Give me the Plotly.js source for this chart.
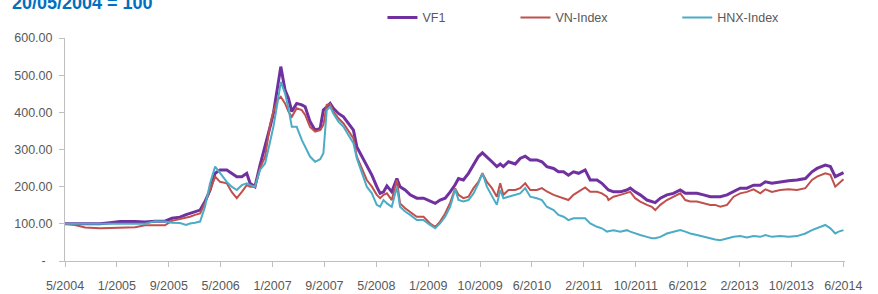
<!DOCTYPE html>
<html>
<head>
<meta charset="utf-8">
<script src="https://cdn.plot.ly/plotly-3.0.1.min.js"></script>
<style>
html,body{margin:0;padding:0;background:#fff;}
#chart{width:878px;height:294px;}
</style>
</head>
<body>
<div id="chart"></div>
<script>
const dates = [
"2004-05-20","2004-07-06","2004-08-23","2004-11-01","2004-12-19","2005-02-04","2005-04-16","2005-06-02","2005-07-19","2005-09-04",
"2005-10-07","2005-11-14","2005-12-13","2005-12-31","2006-01-24","2006-02-17","2006-03-12","2006-04-05","2006-04-29","2006-05-22",
"2006-06-23","2006-07-16","2006-08-09","2006-09-02","2006-09-25","2006-10-11","2006-11-03","2006-11-27","2006-12-21","2007-01-13",
"2007-01-29","2007-02-17","2007-03-05","2007-03-25","2007-04-10","2007-04-26","2007-05-19","2007-06-12","2007-06-28","2007-07-21",
"2007-08-14","2007-09-07","2007-09-22","2007-10-08","2007-10-24","2007-11-08","2007-12-02","2007-12-26","2008-01-18","2008-02-11",
"2008-02-27","2008-03-21","2008-04-14","2008-05-08","2008-05-31","2008-06-16","2008-07-02","2008-07-18","2008-08-10","2008-09-03",
"2008-09-18","2008-10-12","2008-11-05","2008-12-06","2009-01-07","2009-02-07","2009-03-03","2009-03-26","2009-04-19","2009-05-13",
"2009-06-05","2009-06-21","2009-07-14","2009-08-07","2009-08-31","2009-09-23","2009-10-12","2009-11-02","2009-11-26","2009-12-19",
"2010-01-04","2010-01-19","2010-02-12","2010-03-16","2010-04-08","2010-05-02","2010-05-26","2010-06-26","2010-07-20","2010-08-12",
"2010-09-13","2010-10-06","2010-10-30","2010-11-22","2010-12-16","2011-01-09","2011-02-09","2011-03-05","2011-04-06","2011-04-29",
"2011-05-23","2011-05-30","2011-06-23","2011-07-25","2011-08-25","2011-09-10","2011-10-03","2011-10-27","2011-11-28","2011-12-21",
"2012-01-06","2012-01-30","2012-03-01","2012-04-01","2012-05-03","2012-05-27","2012-06-19","2012-07-21","2012-08-21","2012-09-22",
"2012-10-15","2012-11-08","2012-12-10","2013-01-10","2013-02-10","2013-03-14","2013-04-14","2013-05-16","2013-06-09","2013-07-10",
"2013-08-18","2013-09-27","2013-11-05","2013-12-15","2014-01-15","2014-02-08","2014-03-19","2014-04-12","2014-05-05","2014-05-21",
"2014-06-13"
];
const vf1 = [
100,100,100,100,103,106,106,105,107,107,
115,118,125,128,132,137,160,191,236,245,
245,236,227,227,236,209,200,258,307,360,
397,469,523,460,438,402,424,420,415,375,
352,357,406,415,424,411,397,388,370,352,
307,281,254,231,200,182,186,202,186,222,
200,191,178,169,169,160,155,164,169,186,
205,222,218,236,258,281,291,281,267,254,
261,254,267,261,276,282,272,272,267,254,
249,240,240,231,240,236,245,218,218,209,
196,191,186,186,191,196,186,178,164,160,
157,169,178,182,191,182,182,182,178,173,
173,173,178,186,196,196,204,204,213,209,
213,216,218,222,240,249,258,254,227,231,
238
];
const vnIndex = [
100,97,90,88,89,90,91,96,96,96,
108,112,117,119,124,128,156,190,227,213,
209,186,169,186,204,200,200,249,281,365,
402,433,442,424,402,388,411,406,393,361,
348,352,366,420,422,402,384,370,352,330,
281,249,218,200,178,169,178,182,164,218,
155,142,133,119,119,101,92,106,128,157,
195,178,169,173,196,213,236,213,196,173,
209,178,191,191,196,209,191,191,196,187,
178,173,169,164,178,186,198,186,186,182,
173,164,173,178,182,186,169,160,151,146,
137,151,164,173,182,164,160,160,155,151,
151,146,151,173,182,186,193,182,193,186,
191,193,191,196,218,227,236,232,200,209,
220
];
const hnxIndex = [
100,100,100,100,100,100,100,100,107,106,
103,102,97,101,103,106,146,209,254,236,
213,200,191,204,209,204,200,245,263,320,
361,424,482,451,411,361,361,326,307,281,
267,274,290,406,415,397,375,361,339,317,
276,240,200,182,151,146,164,155,146,200,
146,133,124,110,110,97,88,101,119,146,
193,164,160,164,182,209,236,200,173,151,
191,169,173,178,182,196,173,169,164,146,
137,124,119,110,115,115,115,101,92,88,
79,80,83,79,83,79,74,70,65,61,
61,65,74,79,83,79,74,70,65,61,
58,56,61,65,67,63,67,65,70,65,
67,65,67,74,83,88,97,88,74,79,
83
];
const tickDates = ["2004-05-20","2005-01-20","2005-09-22","2006-05-25","2007-01-25","2007-09-27","2008-05-29","2009-01-29",
"2009-10-01","2010-06-03","2011-02-03","2011-10-06","2012-06-07","2013-02-07","2013-10-10","2014-06-12"];
const tickLabels = ["5/2004","1/2005","9/2005","5/2006","1/2007","9/2007","5/2008","1/2009",
"10/2009","6/2010","2/2011","10/2011","6/2012","2/2013","10/2013","6/2014"];
const yTickVals = [0,100,200,300,400,500,600];
const yTickLabels = ["-\u00a0\u00a0","100.00","200.00","300.00","400.00","500.00","600.00"];
const seriesNames = ["VF1","VN-Index","HNX-Index"];
const titleText = "20/05/2004 = 100";

const FONT = "Liberation Sans, Arial, sans-serif";
const traces = [
  {x: dates, y: vf1, name: seriesNames[0], type: "scatter", mode: "lines",
   line: {color: "#7030A0", width: 3}, legend: "legend"},
  {x: dates, y: vnIndex, name: seriesNames[1], type: "scatter", mode: "lines",
   line: {color: "#C0504D", width: 2}, legend: "legend2"},
  {x: dates, y: hnxIndex, name: seriesNames[2], type: "scatter", mode: "lines",
   line: {color: "#4BACC6", width: 2}, legend: "legend3"}
];
const legendBase = {orientation: "h", yanchor: "middle", y: 1.09, xanchor: "left",
  font: {family: FONT, size: 12.5, color: "#595959"}, bgcolor: "rgba(0,0,0,0)", borderwidth: 0};
const layout = {
  width: 878, height: 294,
  margin: {l: 65, r: 33, t: 38, b: 33, autoexpand: false},
  paper_bgcolor: "#ffffff", plot_bgcolor: "#ffffff",
  font: {family: FONT, size: 12.5, color: "#595959"},
  showlegend: true,
  legend: Object.assign({}, legendBase, {x: 0.407}),
  legend2: Object.assign({}, legendBase, {x: 0.5775}),
  legend3: Object.assign({}, legendBase, {x: 0.7849}),
  xaxis: {
    type: "date", range: ["2004-05-20", "2014-06-20"],
    tickmode: "array", tickvals: tickDates, ticktext: tickLabels, tickangle: 0,
    showline: true, linecolor: "#BFBFBF", linewidth: 1,
    ticks: "outside", ticklen: 5, tickcolor: "#BFBFBF",
    ticklabelstandoff: 8,
    showgrid: false, zeroline: false,
    tickfont: {family: FONT, size: 12.5, color: "#595959"}
  },
  yaxis: {
    range: [0, 600], tickmode: "array", tickvals: yTickVals, ticktext: yTickLabels,
    showline: true, linecolor: "#BFBFBF", linewidth: 1,
    ticks: "outside", ticklen: 5, tickcolor: "#BFBFBF",
    ticklabelstandoff: 4,
    showgrid: false, zeroline: false,
    tickfont: {family: FONT, size: 12.5, color: "#595959"}
  },
  annotations: [{
    text: "<b>" + titleText + "</b>", xref: "paper", yref: "paper",
    x: -0.071, y: 1.157, xanchor: "left", yanchor: "middle", showarrow: false,
    font: {family: FONT, size: 18, color: "#0070C0"}
  }]
};
Plotly.newPlot("chart", traces, layout, {displayModeBar: false, staticPlot: true});
</script>
</body>
</html>
